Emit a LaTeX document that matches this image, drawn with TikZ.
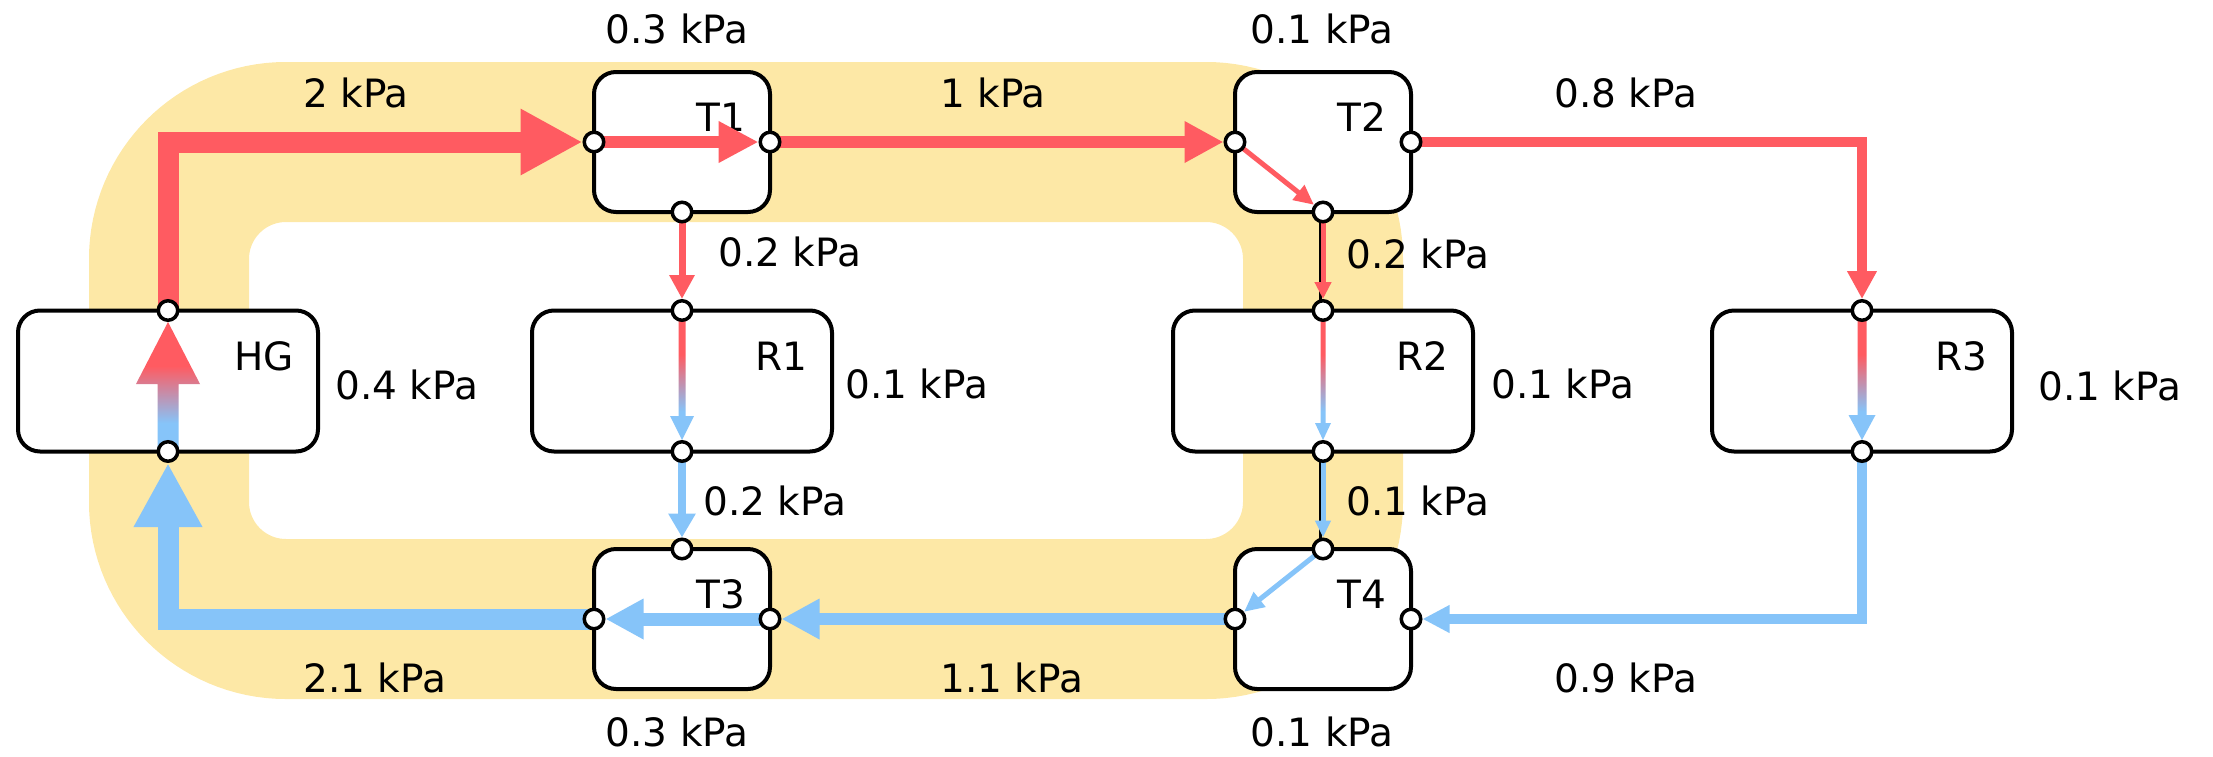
\documentclass[tikz,border=0pt]{standalone}
\usepackage{fontspec}
\setmainfont{DejaVu Sans}
\usetikzlibrary{arrows.meta,calc,positioning}
\pgfdeclarelayer{front}
\pgfsetlayers{main,front}
\definecolor{flowred}{RGB}{255,91,97}
\definecolor{flowblue}{RGB}{134,196,249}
\definecolor{loopyellow}{RGB}{253,232,166}
\pgfdeclareverticalshading{redblue}{100bp}{color(0bp)=(flowblue); color(36bp)=(flowblue); color(58bp)=(flowred); color(100bp)=(flowred)}
\tikzset{
  unit/.style={draw, line width=2pt, rounded corners=11pt, fill=white, outer sep=0pt},
  bigunit/.style={unit, minimum width=150pt, minimum height=70.5pt},
  teeunit/.style={unit, minimum width=88pt, minimum height=70pt},
  port/.style={circle, draw, line width=1.75pt, fill=white, minimum size=9.75pt, inner sep=0pt},
  unitname/.style={font=\fontsize{19.5pt}{23pt}\selectfont, inner sep=0pt, anchor=east},
  kpa/.style={font=\fontsize{19.5pt}{23pt}\selectfont, inner sep=0pt},
  hotflow/.style={draw=flowred, line width=#1},
  coldflow/.style={draw=flowblue, line width=#1},
  edgeline/.style={draw=black, line width=1.5pt}
}
% shaded arrow from port #1 to port #2: half shaft, half head, head length (signed)
\newcommand{\shadedflow}[5]{%
  \shade[shading=redblue] let \p1=(#1), \p2=(#2) in
    ({\x1-#3},\y1) -- ({\x1-#3},{\y2+(#5)}) -- ({\x1-#4},{\y2+(#5)}) -- (\x1,\y2)
    -- ({\x1+#4},{\y2+(#5)}) -- ({\x1+#3},{\y2+(#5)}) -- ({\x1+#3},\y1) -- cycle;}

\begin{document}
\begin{tikzpicture}[x=0.5pt, y=-0.5pt]
    \useasboundingbox (0,0) rectangle (2213,756);

    % main loop band
    \draw[loopyellow, line width=80pt, rounded corners=58.5pt] (169,142) rectangle (1323,619);

    % units
    \node[bigunit] (hg) at (168,381) {};
    \node[bigunit] (r1) at (682,381) {};
    \node[bigunit] (r2) at (1323,381) {};
    \node[bigunit] (r3) at (1862,381) {};
    \node[teeunit] (t1) at (682,142) {};
    \node[teeunit] (t2) at (1323,142) {};
    \node[teeunit] (t3) at (682,619) {};
    \node[teeunit] (t4) at (1323,619) {};

    % unit names
    \node[unitname] (hg-name) at ([xshift=-12pt,yshift=12.5pt]hg.east) {HG};
    \node[unitname] (r1-name) at ([xshift=-12pt,yshift=12.5pt]r1.east) {R1};
    \node[unitname] (r2-name) at ([xshift=-12pt,yshift=12.5pt]r2.east) {R2};
    \node[unitname] (r3-name) at ([xshift=-12pt,yshift=12.5pt]r3.east) {R3};
    \node[unitname] (t1-name) at ([xshift=-12pt,yshift=12.5pt]t1.east) {T1};
    \node[unitname] (t2-name) at ([xshift=-12pt,yshift=12.5pt]t2.east) {T2};
    \node[unitname] (t3-name) at ([xshift=-12pt,yshift=12.5pt]t3.east) {T3};
    \node[unitname] (t4-name) at ([xshift=-12pt,yshift=12.5pt]t4.east) {T4};

    % ports
    \begin{pgfonlayer}{front}
    \node[port] (hg-t) at (hg.north) {};
    \node[port] (hg-b) at (hg.south) {};
    \node[port] (r1-t) at (r1.north) {};
    \node[port] (r1-b) at (r1.south) {};
    \node[port] (r2-t) at (r2.north) {};
    \node[port] (r2-b) at (r2.south) {};
    \node[port] (r3-t) at (r3.north) {};
    \node[port] (r3-b) at (r3.south) {};
    \node[port] (t1-l) at (t1.west) {};
    \node[port] (t1-r) at (t1.east) {};
    \node[port] (t1-b) at (t1.south) {};
    \node[port] (t2-l) at (t2.west) {};
    \node[port] (t2-r) at (t2.east) {};
    \node[port] (t2-b) at (t2.south) {};
    \node[port] (t3-t) at (t3.north) {};
    \node[port] (t3-l) at (t3.west) {};
    \node[port] (t3-r) at (t3.east) {};
    \node[port] (t4-t) at (t4.north) {};
    \node[port] (t4-l) at (t4.west) {};
    \node[port] (t4-r) at (t4.east) {};
    \end{pgfonlayer}

    % supply side
    \draw[hotflow=10.5pt, -{Triangle[length=31pt,width=31pt]}] (hg-t.center) |- (t1-l);
    \draw[hotflow=6pt, -{Triangle[length=20pt,width=19.5pt]}] (t1-l.center) -- (t1-r);
    \draw[hotflow=6pt, -{Triangle[length=19.5pt,width=19.5pt]}] (t1-r.center) -- (t2-l);
    \draw[hotflow=3.5pt, -{Triangle[length=12pt,width=12pt]}] (t1-b.center) -- (r1-t);
    \draw[hotflow=2.5pt, -{Triangle[length=10pt,width=9pt]}] (t2-l.center) -- (t2-b);
    \draw[edgeline] ([xshift=-1.5pt]t2-b.center) -- ([xshift=-1.5pt]r2-t.center);
    \draw[hotflow=2.5pt, -{Triangle[length=8.5pt,width=8pt]}] (t2-b.center) -- (r2-t);
    \draw[hotflow=5pt, -{Triangle[length=14pt,width=14pt]}] (t2-r.center) -| (r3-t);

    % through the units
    \shadedflow{hg-b.center}{hg-t.south}{5.25pt}{16pt}{-31pt}
    \shadedflow{r1-t.center}{r1-b.north}{1.75pt}{6pt}{12pt}
    \shadedflow{r2-t.center}{r2-b.north}{1.25pt}{4pt}{8.5pt}
    \shadedflow{r3-t.center}{r3-b.north}{2.25pt}{6.75pt}{12.5pt}

    % return side
    \draw[coldflow=4pt, -{Triangle[length=12pt,width=13pt]}] (r1-b.center) -- (t3-t);
    \draw[edgeline] ([xshift=-1.5pt]r2-b.center) -- ([xshift=-1.5pt]t4-t.center);
    \draw[coldflow=2.5pt, -{Triangle[length=8.5pt,width=7.5pt]}] (r2-b.center) -- (t4-t);
    \draw[coldflow=5pt, -{Triangle[length=13.5pt,width=13pt]}] (r3-b.center) |- (t4-r);
    \draw[coldflow=2.5pt, -{Triangle[length=10pt,width=9pt]}] (t4-t.center) -- (t4-l);
    \draw[coldflow=6pt, -{Triangle[length=19pt,width=19pt]}] (t4-l.center) -- (t3-r);
    \draw[coldflow=6.5pt, -{Triangle[length=19pt,width=19pt]}] (t3-r.center) -- (t3-l);
    \draw[coldflow=10.5pt, -{Triangle[length=32pt,width=32pt]}] (t3-l.center) -| (hg-b);

    % pressure drops
    \node[kpa, anchor=base west] (hg-p) at (335,399) {0.4 kPa};
    \node[kpa, anchor=base west] (r1-p) at (845,398) {0.1 kPa};
    \node[kpa, anchor=base west] (r2-p) at (1491,398) {0.1 kPa};
    \node[kpa, anchor=base west] (r3-p) at (2038,400) {0.1 kPa};
    \node[kpa, anchor=base] (t1-p) at (677,43) {0.3 kPa};
    \node[kpa, anchor=base] (t2-p) at (1322,43) {0.1 kPa};
    \node[kpa, anchor=base] (t3-p) at (677,746) {0.3 kPa};
    \node[kpa, anchor=base] (t4-p) at (1322,746) {0.1 kPa};

    % pipe losses
    \node[kpa, anchor=base west] (hg-t1-p) at (303,107) {2 kPa};
    \node[kpa, anchor=base west] (t1-t2-p) at (940,107) {1 kPa};
    \node[kpa, anchor=base west] (t2-r3-p) at (1554,107) {0.8 kPa};
    \node[kpa, anchor=base west] (t1-r1-p) at (718,266) {0.2 kPa};
    \node[kpa, anchor=base west] (t2-r2-p) at (1346,268) {0.2 kPa};
    \node[kpa, anchor=base west] (r1-t3-p) at (703,515) {0.2 kPa};
    \node[kpa, anchor=base west] (r2-t4-p) at (1346,515) {0.1 kPa};
    \node[kpa, anchor=base west] (t3-hg-p) at (303,692) {2.1 kPa};
    \node[kpa, anchor=base west] (t4-t3-p) at (940,692) {1.1 kPa};
    \node[kpa, anchor=base west] (r3-t4-p) at (1554,692) {0.9 kPa};
\end{tikzpicture}
\end{document}
